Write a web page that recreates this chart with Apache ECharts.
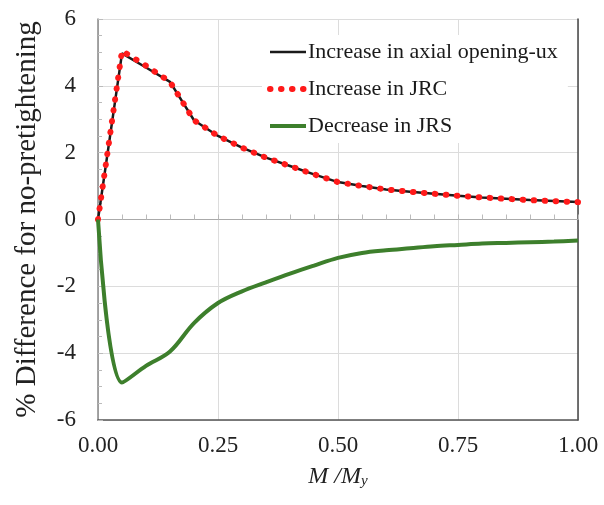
<!DOCTYPE html>
<html>
<head>
<meta charset="utf-8">
<script src="https://cdn.jsdelivr.net/npm/echarts@6/dist/echarts.min.js"></script>
<style>
  html, body { margin: 0; padding: 0; background: #fff; }
  #chart { width: 604px; height: 505px; }
</style>
</head>
<body>
<div id="chart"></div>
<script>
// M/My
const ratio = [0, 0.05, 0.1, 0.15, 0.2, 0.25, 0.3, 0.35, 0.4, 0.45, 0.5,
  0.55, 0.6, 0.65, 0.7, 0.75, 0.8, 0.85, 0.9, 0.95, 1.0];
// % difference
const axialOpening = [0, 4.97, 4.55, 4.12, 2.97, 2.5, 2.15, 1.85, 1.6, 1.35, 1.12,
  1.0, 0.9, 0.83, 0.77, 0.71, 0.66, 0.62, 0.58, 0.55, 0.52];
const jrc = [0, 5.05, 4.6, 4.12, 2.97, 2.5, 2.15, 1.85, 1.6, 1.35, 1.12,
  1.0, 0.9, 0.83, 0.77, 0.71, 0.66, 0.62, 0.58, 0.55, 0.52];
const jrs = [0, -4.88, -4.38, -3.95, -3.1, -2.5, -2.15, -1.88, -1.62, -1.38, -1.15,
  -1.0, -0.92, -0.86, -0.8, -0.76, -0.72, -0.7, -0.68, -0.66, -0.63];

const seriesNames = ['Increase in axial opening-ux', 'Increase in JRC', 'Decrease in JRS'];

const font = 'Liberation Serif, Times New Roman, serif';
const pairs = vals => ratio.map((x, i) => [x, vals[i]]);

const chart = echarts.init(document.getElementById('chart'));

const option = {
  animation: false,
  textStyle: { fontFamily: font },
  grid: { left: 98, right: 26, top: 19, bottom: 85 },
  legend: {
    orient: 'vertical',
    left: 262,
    top: 35,
    padding: [6, 10, 6, 5],
    backgroundColor: '#fff',
    itemWidth: 36,
    itemHeight: 14,
    itemGap: 15,
    itemStyle: { opacity: 0 },
    textStyle: { fontFamily: font, fontSize: 22, color: '#1a1a1a', padding: [0, 0, 0, -3] },
    data: [
      { name: seriesNames[0], lineStyle: { width: 2.5 } },
      { name: seriesNames[1], lineStyle: { width: 6 } },
      { name: seriesNames[2], lineStyle: { width: 4 } }
    ]
  },
  xAxis: [
    {
      type: 'value',
      min: 0, max: 1, interval: 0.25,
      position: 'bottom',
      axisLine: { onZero: false, lineStyle: { color: '#555', width: 1.5 } },
      axisTick: { show: false },
      axisLabel: {
        fontSize: 23, color: '#222', margin: 14,
        formatter: v => v.toFixed(2)
      },
      splitLine: { lineStyle: { color: '#dcdcdc' } },
      name: '{a|M /M}{b|y}',
      nameLocation: 'middle',
      nameGap: 40,
      nameTextStyle: {
        rich: {
          a: { fontFamily: font, fontStyle: 'italic', fontSize: 24, color: '#222', verticalAlign: 'bottom' },
          b: { fontFamily: font, fontStyle: 'italic', fontSize: 15, color: '#222', verticalAlign: 'top', padding: [14, 0, 0, 0] }
        }
      }
    },
    {
      // axis line drawn through y = 0
      type: 'value',
      min: 0, max: 1, interval: 0.25,
      position: 'top',
      axisLine: { onZero: true, lineStyle: { color: '#aaa', width: 1 } },
      axisTick: { show: true, inside: false, length: 5, lineStyle: { color: '#bbb' } },
      minorTick: { show: true, splitNumber: 5, length: 5, lineStyle: { color: '#bbb' } },
      axisLabel: { show: false },
      splitLine: { show: false }
    }
  ],
  yAxis: [
    {
      type: 'value',
      min: -6, max: 6, interval: 2,
      axisLine: { show: true, onZero: false, lineStyle: { color: '#888', width: 1.5 } },
      axisTick: { show: true, inside: true, length: 5, lineStyle: { color: '#bbb' } },
      minorTick: { show: true, splitNumber: 4, length: 4, lineStyle: { color: '#bbb' } },
      axisLabel: { fontSize: 23, color: '#222', margin: 22 },
      splitLine: { lineStyle: { color: '#dcdcdc' } },
      name: '% Difference for no-pretightening',
      nameLocation: 'middle',
      nameGap: 56,
      nameTextStyle: { fontFamily: font, fontSize: 29, color: '#222' }
    },
    {
      type: 'value',
      min: -6, max: 6, interval: 2,
      position: 'right',
      axisLine: { show: true, onZero: false, lineStyle: { color: '#444', width: 1.5 } },
      axisTick: { show: false },
      axisLabel: { show: false },
      splitLine: { show: false }
    }
  ],
  series: [
    {
      name: seriesNames[0],
      type: 'line',
      data: pairs(axialOpening),
      showSymbol: false,
      symbol: 'none',
      color: '#1a1a1a',
      lineStyle: { color: '#1a1a1a', width: 2.5 }
    },
    {
      name: seriesNames[1],
      type: 'line',
      data: pairs(jrc),
      showSymbol: false,
      symbol: 'none',
      color: '#ff1a1a',
      lineStyle: { color: '#ff1a1a', width: 6, type: [0.5, 10.5], cap: 'round' }
    },
    {
      name: seriesNames[2],
      type: 'line',
      data: pairs(jrs),
      showSymbol: false,
      symbol: 'none',
      smooth: 0.35,
      color: '#3d7f2c',
      lineStyle: { color: '#3d7f2c', width: 4 }
    }
  ]
};

chart.setOption(option);
</script>
</body>
</html>
